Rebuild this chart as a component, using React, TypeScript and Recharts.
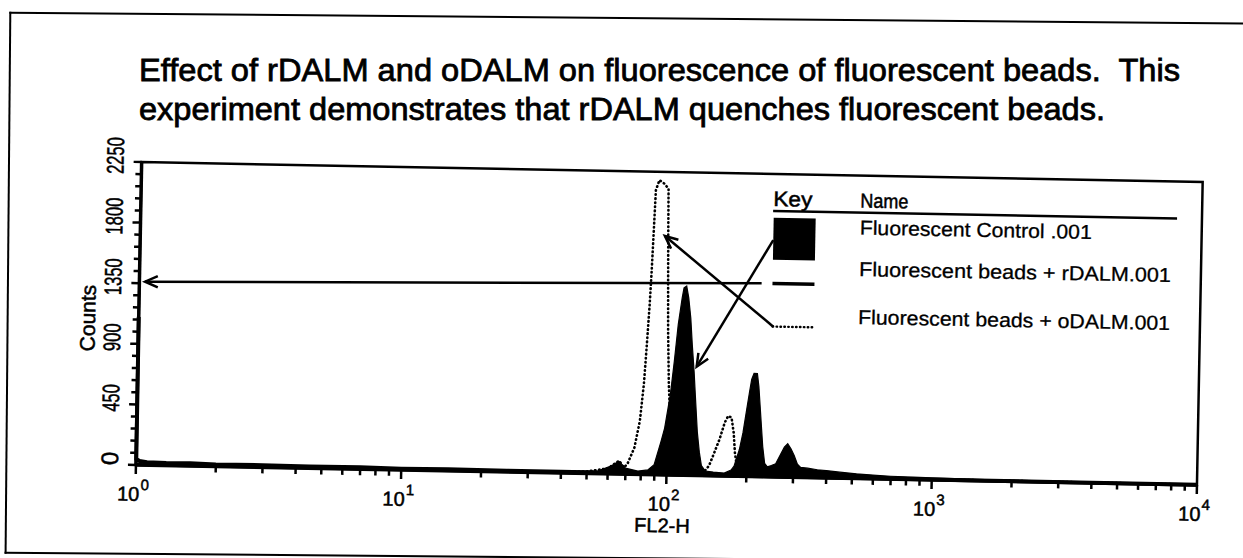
import React from "react";
import {
  ComposedChart,
  Area,
  Line,
  XAxis,
  YAxis,
  ReferenceLine,
  ReferenceArea,
  Legend,
} from "recharts";

const FONT = '"Liberation Sans", Arial, Helvetica, sans-serif';
const INK = "#000";

const TITLE_LINES = [
  "Effect of rDALM and oDALM on fluorescence of fluorescent beads.  This",
  "experiment demonstrates that rDALM quenches fluorescent beads.",
];

// FL2-H channel value -> counts
const CONTROL_FL = [
  1, 2, 5, 10, 20, 40, 55, 62, 66, 70, 78, 85, 89.7, 94.9, 97.7, 102.1, 105.1,
  108.1, 111.4, 113, 115.6, 117.9, 120.4, 122.5, 125, 126.8, 129.8, 132.5,
  135.2, 140, 150, 165, 175, 179.5, 187.5, 192.9, 198.5, 202.7, 206.3, 210.4,
  216.6, 219.8, 223, 226.2, 229.5, 234, 239.7, 248, 257.6, 269, 277, 285, 293.4,
  302, 311, 320, 340, 370, 400, 450, 520, 600, 700, 850, 1000, 1300, 1700, 2200,
  3000, 4000, 5500, 7000, 10000,
];
const CONTROL_COUNTS = [
  10, 12, 9, 10, 12, 14, 20, 60, 95, 45, 25, 35, 75, 249, 348, 597, 845, 1119,
  1318, 1392, 1405, 1318, 1168, 970, 771, 597, 323, 174, 75, 35, 28, 22, 45, 75,
  199, 323, 497, 622, 721, 766, 766, 671, 522, 373, 224, 99, 75, 85, 99, 174,
  224, 249, 211, 162, 99, 75, 70, 60, 55, 45, 35, 28, 22, 18, 15, 12, 10, 9, 8,
  6, 5, 4, 3,
];

const RDALM_FL = [
  1, 1.002, 1.03, 1.1, 1.3, 1.6, 2, 3, 4.5, 7, 10, 15, 25, 40, 60, 90, 150, 300,
  600, 1500, 4000, 10000,
];
const RDALM_COUNTS = [
  1100, 45, 30, 22, 18, 20, 15, 16, 12, 14, 10, 12, 9, 10, 8, 6, 5, 5, 4, 3, 2,
  1,
];

const ODALM_FL = [
  1, 3, 10, 30, 50, 60, 66.2, 69, 71.1, 75.4, 78.7, 81, 82.6, 84.1, 85.1, 86.1,
  87.1, 89.7, 93.6, 97.2, 97.7, 98.3, 99.1, 100.6, 103, 107, 115, 130, 138,
  144.5, 151, 157.6, 164.5, 169.3, 174.3, 178, 180.5, 184.7, 200, 230, 260, 300,
  500, 1000, 10000,
];
const ODALM_COUNTS = [
  5, 5, 6, 8, 15, 40, 99, 50, 75, 199, 398, 671, 970, 1268, 1516, 1815, 2113,
  2188, 2163, 2126, 1765, 1442, 1069, 671, 323, 100, 40, 25, 25, 75, 174, 273,
  398, 447, 435, 323, 174, 50, 30, 60, 40, 20, 10, 5, 2,
];

const SERIES_NAMES = [
  "Fluorescent Control .001",
  "Fluorescent beads + rDALM.001",
  "Fluorescent beads + oDALM.001",
];
const LEGEND_TEXT_WIDTHS = [232, 312, 312];

const X_DECADES = [1, 10, 100, 1000, 10000];
const X_MINOR = [
  2, 3, 4, 5, 6, 7, 8, 9, 20, 30, 40, 50, 60, 70, 80, 90, 200, 300, 400, 500,
  600, 700, 800, 900, 2000, 3000, 4000, 5000, 6000, 7000, 8000, 9000,
];
const Y_MAJOR = [0, 450, 900, 1350, 1800, 2250];
const Y_MINOR = [
  90, 180, 270, 360, 540, 630, 720, 810, 990, 1080, 1170, 1260, 1440, 1530,
  1620, 1710, 1890, 1980, 2070, 2160,
];

// annotation arrows (data coords), head drawn at "to"
const ARROWS = [
  { from: { x: 243.2, y: 1759 }, to: { x: 127.7, y: 808 } },
  { from: { x: 246.7, y: 1116 }, to: { x: 94.9, y: 1774 } },
  { from: { x: 221.4, y: 1436 }, to: { x: 1.05, y: 1362 } },
];

const toPoints = (xs: number[], ys: number[]) =>
  xs.map((fl, i) => ({ fl, count: ys[i] }));

const controlData = toPoints(CONTROL_FL, CONTROL_COUNTS);
const rdalmData = toPoints(RDALM_FL, RDALM_COUNTS);
const odalmData = toPoints(ODALM_FL, ODALM_COUNTS);

// scanned print is heavier than plain regular weight
const heavy = { stroke: INK, strokeWidth: 0.5 };

function XTick(props: any) {
  const { x, y, payload } = props;
  const exp = X_DECADES.indexOf(payload.value);
  const major = exp >= 0;
  return (
    <g>
      <line
        x1={x}
        y1={y}
        x2={x}
        y2={y + (major ? 9 : 6)}
        stroke={INK}
        strokeWidth={2.5}
      />
      {major && (
        <>
          <text
            x={x + 4}
            y={y + 36}
            textAnchor="end"
            fontSize={20}
            fontFamily={FONT}
            fill={INK}
            {...heavy}
          >
            10
          </text>
          <text
            x={x + 5}
            y={y + 25}
            fontSize={15}
            fontFamily={FONT}
            fill={INK}
            {...heavy}
          >
            {exp}
          </text>
        </>
      )}
    </g>
  );
}

function YTick(props: any) {
  const { x, y, payload } = props;
  const v = payload.value;
  const major = Y_MAJOR.includes(v);
  const label = String(v);
  const bx = x - 18;
  const ty = y - 6;
  return (
    <g>
      <line
        x1={x}
        y1={y}
        x2={x - (major ? 8 : 6)}
        y2={y}
        stroke={INK}
        strokeWidth={2.5}
      />
      {major && (
        <text
          x={bx}
          y={ty}
          transform={`rotate(-90 ${bx} ${ty})`}
          textAnchor="middle"
          fontSize={24}
          fontFamily={FONT}
          fill={INK}
          {...heavy}
          textLength={label.length > 1 ? label.length * 9.2 : undefined}
          lengthAdjust="spacingAndGlyphs"
        >
          {label}
        </text>
      )}
    </g>
  );
}

function ArrowShape(props: any) {
  const x1 = Number(props.x1);
  const y1 = Number(props.y1);
  const x2 = Number(props.x2);
  const y2 = Number(props.y2);
  const ang = Math.atan2(y2 - y1, x2 - x1);
  const len = 14;
  const spread = 0.42;
  const ax = x2 - len * Math.cos(ang - spread);
  const ay = y2 - len * Math.sin(ang - spread);
  const bx = x2 - len * Math.cos(ang + spread);
  const by = y2 - len * Math.sin(ang + spread);
  return (
    <g>
      <line x1={x1} y1={y1} x2={x2} y2={y2} stroke={INK} strokeWidth={2.5} />
      <polyline
        points={`${ax},${ay} ${x2},${y2} ${bx},${by}`}
        fill="none"
        stroke={INK}
        strokeWidth={2.5}
      />
    </g>
  );
}

function KeyLegend() {
  const rows = [46, 87.5, 135.5];
  return (
    <svg width={440} height={160} style={{ display: "block", overflow: "visible" }}>
      <text
        x={11}
        y={19}
        fontSize={21}
        fontFamily={FONT}
        fill={INK}
        {...heavy}
        textLength={39}
        lengthAdjust="spacingAndGlyphs"
      >
        Key
      </text>
      <text
        x={98}
        y={19}
        fontSize={20}
        fontFamily={FONT}
        fill={INK}
        {...heavy}
        textLength={48}
        lengthAdjust="spacingAndGlyphs"
      >
        Name
      </text>
      <line x1={11} y1={24} x2={415} y2={24} stroke={INK} strokeWidth={2.5} />
      <rect x={11.7} y={30.7} width={42} height={42} fill={INK} />
      <line x1={11.7} y1={96.6} x2={53.7} y2={96.6} stroke={INK} strokeWidth={3.5} />
      <line
        x1={12.7}
        y1={139.6}
        x2={53.7}
        y2={139.6}
        stroke={INK}
        strokeWidth={2.4}
        strokeDasharray="0.5 3.4"
        strokeLinecap="round"
      />
      {SERIES_NAMES.map((name, i) => (
        <text
          key={name}
          x={98}
          y={rows[i]}
          fontSize={20}
          fontFamily={FONT}
          fill={INK}
          strokeWidth={0.3}
          stroke={INK}
          textLength={LEGEND_TEXT_WIDTHS[i]}
          lengthAdjust="spacingAndGlyphs"
        >
          {name}
        </text>
      ))}
    </svg>
  );
}

export default function App() {
  return (
    <div
      style={{
        position: "fixed",
        left: 0,
        top: 0,
        width: 1243,
        height: 558,
        overflow: "hidden",
        background: "#fff",
      }}
    >
      {/* page frame, scan is slightly tilted */}
      <div
        style={{
          position: "absolute",
          left: 0,
          top: 0,
          width: 1243,
          height: 558,
          transform: "rotate(0.5deg)",
          transformOrigin: "621px 279px",
        }}
      >
        <div
          style={{
            position: "absolute",
            left: 7,
            top: 17,
            width: 1400,
            height: 542,
            borderTop: "2.5px solid #000",
            borderLeft: "2.5px solid #000",
            borderBottom: "2.5px solid #000",
            boxSizing: "border-box",
          }}
        />
      </div>

      {/* title kept level so the two lines stay clear of each other */}
      <svg
        width={1243}
        height={140}
        style={{ position: "absolute", left: 0, top: 0 }}
      >
        <text
          x={139}
          y={80.5}
          fontSize={32}
          fontFamily={FONT}
          fill={INK}
          stroke={INK}
          strokeWidth={0.8}
          textLength={1041}
          lengthAdjust="spacingAndGlyphs"
          style={{ whiteSpace: "pre" }}
        >
          {TITLE_LINES[0]}
        </text>
        <text
          x={139}
          y={120}
          fontSize={32}
          fontFamily={FONT}
          fill={INK}
          stroke={INK}
          strokeWidth={0.8}
          textLength={966}
          lengthAdjust="spacingAndGlyphs"
        >
          {TITLE_LINES[1]}
        </text>
      </svg>

      {/* histogram, tilted a little more than the page */}
      <div
        style={{
          position: "absolute",
          left: 0,
          top: 0,
          width: 1243,
          height: 558,
          transform: "rotate(1.08deg)",
          transformOrigin: "669.3px 323.5px",
        }}
      >
        <ComposedChart
          width={1243}
          height={558}
          margin={{ top: 172, right: 43.1, bottom: 13, left: 38.7 }}
        >
          <XAxis
            dataKey="fl"
            type="number"
            scale="log"
            domain={[1, 10000]}
            ticks={[...X_DECADES, ...X_MINOR].sort((a, b) => a - b)}
            interval={0}
            tick={<XTick />}
            tickSize={0}
            tickMargin={0}
            tickLine={false}
            axisLine={{ stroke: INK, strokeWidth: 3.5 }}
            height={70}
            label={{
              content: (p: any) => {
                const vb = p.viewBox || { x: 138.7, y: 475, width: 1061.2 };
                return (
                  <text
                    x={vb.x + vb.width / 2 - 3.5}
                    y={vb.y + 57.5}
                    textAnchor="middle"
                    fontSize={20}
                    fontFamily={FONT}
                    fill={INK}
                    {...heavy}
                  >
                    FL2-H
                  </text>
                );
              },
            }}
          />
          <YAxis
            type="number"
            domain={[0, 2250]}
            ticks={[...Y_MAJOR, ...Y_MINOR].sort((a, b) => a - b)}
            interval={0}
            tick={<YTick />}
            tickSize={0}
            tickMargin={0}
            tickLine={false}
            axisLine={{ stroke: INK, strokeWidth: 3.5 }}
            width={100}
            label={{
              content: (p: any) => {
                const vb = p.viewBox || { x: 38.7, y: 172, width: 100, height: 303 };
                const bx = vb.x + vb.width - 43.5;
                const ty = vb.y + vb.height / 2 + 5.5;
                return (
                  <text
                    x={bx}
                    y={ty}
                    transform={`rotate(-90 ${bx} ${ty})`}
                    textAnchor="middle"
                    fontSize={21}
                    fontFamily={FONT}
                    fill={INK}
                    {...heavy}
                  >
                    Counts
                  </text>
                );
              },
            }}
          />
          <ReferenceArea
            x1={1}
            x2={10000}
            y1={0}
            y2={2250}
            fill="none"
            fillOpacity={0}
            stroke={INK}
            strokeWidth={2.5}
          />
          <Area
            data={controlData}
            dataKey="count"
            name={SERIES_NAMES[0]}
            type="linear"
            stroke={INK}
            strokeWidth={1.2}
            fill={INK}
            fillOpacity={1}
            dot={false}
            activeDot={false}
            isAnimationActive={false}
          />
          <Line
            data={rdalmData}
            dataKey="count"
            name={SERIES_NAMES[1]}
            type="linear"
            stroke={INK}
            strokeWidth={4}
            dot={false}
            activeDot={false}
            isAnimationActive={false}
          />
          <Line
            data={odalmData}
            dataKey="count"
            name={SERIES_NAMES[2]}
            type="linear"
            stroke={INK}
            strokeWidth={2.6}
            strokeDasharray="0.5 3.6"
            strokeLinecap="round"
            dot={false}
            activeDot={false}
            isAnimationActive={false}
          />
          {ARROWS.map((a, i) => (
            <ReferenceLine
              key={i}
              segment={[a.from, a.to]}
              stroke={INK}
              strokeWidth={2.5}
              shape={ArrowShape}
            />
          ))}
          <Legend
            layout="vertical"
            align="center"
            verticalAlign="middle"
            content={() => <KeyLegend />}
            wrapperStyle={{ left: 760, top: 185, width: 440, height: 160 }}
          />
        </ComposedChart>
      </div>
    </div>
  );
}
